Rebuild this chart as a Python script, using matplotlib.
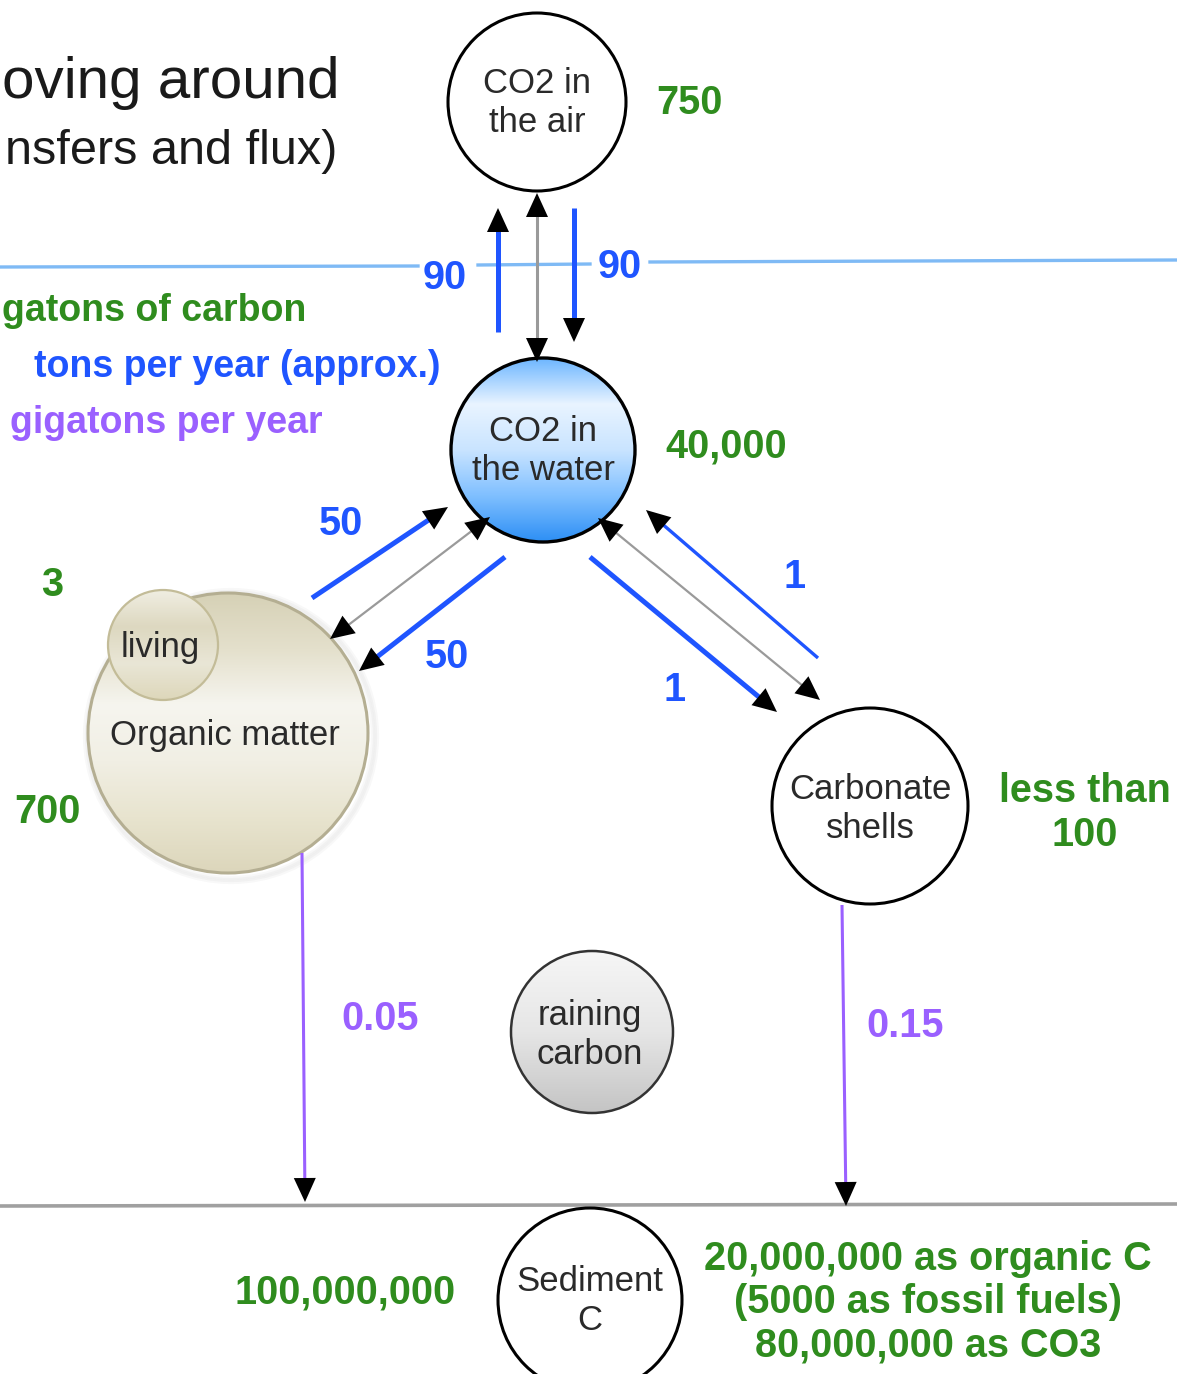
import numpy as np
import matplotlib.pyplot as plt
from matplotlib.patches import Circle, Polygon
from matplotlib.colors import LinearSegmentedColormap

plt.rcParams['font.family'] = ['Liberation Sans', 'DejaVu Sans']

# text of the diagram
title_lines = ["oving around", "nsfers and flux)"]
legend_lines = ["gatons of carbon", "tons per year (approx.)", "gigatons per year"]
reservoirs = ["CO2 in\nthe air", "CO2 in\nthe water", "living", "Organic matter",
              "Carbonate\nshells", "raining\ncarbon", "Sediment\nC"]
# stocks, gigatons of carbon
stocks = ["750", "40,000", "3", "700", "less than\n100", "100,000,000",
          "20,000,000 as organic C\n(5000 as fossil fuels)\n80,000,000 as CO3"]
# fluxes, gigatons per year
blue_flux = ["90", "90", "50", "50", "1", "1"]
purple_flux = ["0.05", "0.15"]

# colours
GREEN = '#2f8c1e'
BLUE = '#1f55ff'
PURPLE = '#9a60ff'
GREY = '#9a9a9a'
TXT = '#2a2a2a'

# layout in pixels (x, y from top)
node_pos = [(537, 102), (543, 450), (163, 645), (228, 733), (870, 806), (592, 1032), (590, 1300)]
node_r = [89, 92, 55, 140, 98, 81, 92]
node_text_pos = [(537, 103), (543, 451), (160, 647), (225, 736), (870, 809), (590, 1035), (590, 1301)]
stock_pos = [(689, 103), (726, 447), (52, 585), (47, 812), (1085, 813), (345, 1293), (928, 1302)]
blue_label_pos = [(445, 278), (620, 267), (341, 524), (447, 657), (795, 577), (675, 690)]
purple_label_pos = [(380, 1019), (905, 1026)]

fig = plt.figure(figsize=(11.77, 13.74), dpi=100)
ax = fig.add_axes([0, 0, 1, 1])
ax.set_xlim(0, 1177)
ax.set_ylim(1374, 0)
ax.axis('off')


def gradient_circle(c, r, stops, edge, lw, z=2):
    cmap = LinearSegmentedColormap.from_list('g', stops)
    grad = np.linspace(0, 1, 256).reshape(-1, 1)
    clip = Circle(c, r, transform=ax.transData, facecolor='none', edgecolor='none')
    ax.add_patch(clip)
    im = ax.imshow(grad, cmap=cmap, extent=(c[0] - r, c[0] + r, c[1] + r, c[1] - r),
                   aspect='auto', zorder=z, interpolation='bilinear')
    im.set_clip_path(clip)
    ax.add_patch(Circle(c, r, facecolor='none', edgecolor=edge, lw=lw, zorder=z + 0.1))


def head(tip, tail, length=24, width=22):
    tip = np.array(tip, float)
    tail = np.array(tail, float)
    d = (tip - tail) / np.linalg.norm(tip - tail)
    n = np.array([-d[1], d[0]])
    base = tip - d * length
    ax.add_patch(Polygon([tip, base + n * width / 2, base - n * width / 2],
                         closed=True, facecolor='black', edgecolor='none', zorder=6))
    return base + d * length * 0.4


def arrow(tail, tip, color, lw, both=False):
    end = head(tip, tail)
    start = head(tail, tip) if both else tail
    ax.plot([start[0], end[0]], [start[1], end[1]], color=color, lw=lw,
            solid_capstyle='butt', zorder=5)


# water surface and sea floor
ax.plot([0, 418], [267, 266], color='#7fbaf5', lw=2.4, zorder=1)
ax.plot([478, 590], [265, 264], color='#7fbaf5', lw=2.4, zorder=1)
ax.plot([650, 1177], [262, 260], color='#7fbaf5', lw=2.4, zorder=1)
ax.plot([0, 1177], [1206, 1204], color='#a0a0a0', lw=2.6, zorder=1)

# reservoirs
ax.add_patch(Circle(node_pos[0], node_r[0], facecolor='white', edgecolor='black', lw=2.2, zorder=2))
gradient_circle(node_pos[1], node_r[1],
                ['#6db6ff', '#e9f4ff', '#c9e4ff', '#7fbfff', '#2d8ff5'], 'black', 2.4)
# soft shadow for organic matter
for k, a in enumerate([0.05, 0.05, 0.05]):
    ax.add_patch(Circle((node_pos[3][0] + 3, node_pos[3][1] + 3), node_r[3] + 2 + 2 * k,
                        facecolor='none', edgecolor='#777777', lw=3, alpha=a, zorder=1.5))
gradient_circle(node_pos[3], node_r[3],
                ['#d6d1b6', '#e4e0cc', '#f6f5ef', '#f1efe4', '#e8e4cf', '#dcd6bb'], '#b4ae92', 2.2)
gradient_circle(node_pos[2], node_r[2],
                ['#f0eee2', '#ddd8c0', '#e9e6d6', '#ddd7ba'], '#c3bc98', 1.6, z=3)
ax.add_patch(Circle(node_pos[4], node_r[4], facecolor='white', edgecolor='black', lw=2.2, zorder=2))
gradient_circle(node_pos[5], node_r[5], ['#f6f6f6', '#e6e6e6', '#c4c4c4'], '#333333', 1.8)
ax.add_patch(Circle(node_pos[6], node_r[6], facecolor='white', edgecolor='black', lw=2.2, zorder=2))

for lab, (x, y) in zip(reservoirs, node_text_pos):
    ax.text(x, y, lab, ha='center', va='center', fontsize=25, color=TXT,
            linespacing=1.2, zorder=7)

# stocks
for lab, (x, y) in zip(stocks, stock_pos):
    ax.text(x, y, lab, ha='center', va='center', fontsize=28.5, color=GREEN,
            fontweight='bold', linespacing=1.18, zorder=7)

# flux arrows: blue = yearly exchange, grey = two-way link, purple = burial
arrow((498, 332), (498, 208), BLUE, 3.6)
arrow((537, 193), (537, 362), GREY, 2.2, both=True)
arrow((574, 208), (574, 342), BLUE, 3.6)

arrow((312, 598), (448, 507), BLUE, 3.6)
arrow((330, 639), (490, 517), GREY, 1.6, both=True)
arrow((505, 557), (359, 671), BLUE, 3.6)

arrow((590, 557), (777, 712), BLUE, 3.6)
arrow((598, 518), (820, 700), GREY, 1.6, both=True)
arrow((818, 658), (646, 510), BLUE, 2.4)

arrow((302, 853), (305, 1202), PURPLE, 2.2)
arrow((842, 905), (846, 1206), PURPLE, 2.2)

for lab, (x, y) in zip(blue_flux, blue_label_pos):
    ax.text(x, y, lab, ha='center', va='center', fontsize=28.5, color=BLUE,
            fontweight='bold', zorder=7)
for lab, (x, y) in zip(purple_flux, purple_label_pos):
    ax.text(x, y, lab, ha='center', va='center', fontsize=28.5, color=PURPLE,
            fontweight='bold', zorder=7)

# title and legend (cut at the left edge)
ax.text(340, 83, title_lines[0], ha='right', va='center', fontsize=42, color='#1a1a1a')
ax.text(337, 151, title_lines[1], ha='right', va='center', fontsize=35, color='#1a1a1a')
for lab, col, x, y in zip(legend_lines, [GREEN, BLUE, PURPLE], [306, 440, 323], [311, 367, 423]):
    ax.text(x, y, lab, ha='right', va='center', fontsize=27, color=col, fontweight='bold')

fig.savefig('out.png', dpi=100)
